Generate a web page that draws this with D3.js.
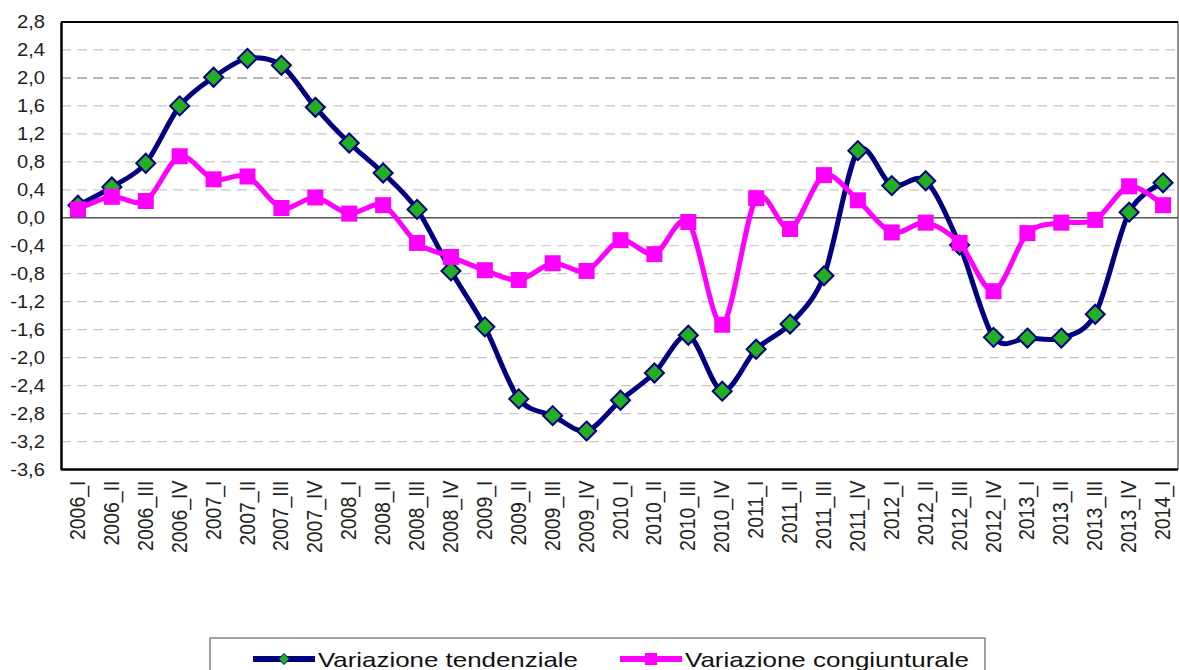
<!DOCTYPE html>
<html>
<head>
<meta charset="utf-8">
<script src="https://cdn.jsdelivr.net/npm/d3@7"></script>
<style>
  body { margin: 0; background: #fff; }
  svg { display: block; font-family: "Liberation Sans", Arial, sans-serif; }
</style>
</head>
<body>
<div id="vis"></div>
<script>
const W = 1179, H = 670;
const plot = {left: 61, right: 1180, top: 22, bottom: 469.5};

// quarters on the x axis
const quarters = ["2006_I","2006_II","2006_III","2006_IV","2007_I","2007_II","2007_III","2007_IV",
  "2008_I","2008_II","2008_III","2008_IV","2009_I","2009_II","2009_III","2009_IV",
  "2010_I","2010_II","2010_III","2010_IV","2011_I","2011_II","2011_III","2011_IV",
  "2012_I","2012_II","2012_III","2012_IV","2013_I","2013_II","2013_III","2013_IV","2014_I"];

// variazione tendenziale (blue, diamonds)
const tendenziale = [0.18, 0.44, 0.78, 1.60, 2.01, 2.28, 2.18, 1.58,
  1.07, 0.64, 0.12, -0.76, -1.56, -2.59, -2.83, -3.05,
  -2.61, -2.22, -1.68, -2.48, -1.88, -1.52, -0.83, 0.96,
  0.46, 0.53, -0.39, -1.71, -1.72, -1.72, -1.38, 0.08, 0.50];

// variazione congiunturale (magenta, squares)
const congiunturale = [0.12, 0.30, 0.24, 0.88, 0.55, 0.59, 0.14, 0.29,
  0.06, 0.18, -0.36, -0.56, -0.75, -0.89, -0.65, -0.76,
  -0.32, -0.52, -0.06, -1.53, 0.28, -0.16, 0.61, 0.25,
  -0.21, -0.07, -0.36, -1.05, -0.22, -0.07, -0.03, 0.45, 0.18];

const yTicks = [2.8, 2.4, 2.0, 1.6, 1.2, 0.8, 0.4, 0.0, -0.4, -0.8, -1.2, -1.6, -2.0, -2.4, -2.8, -3.2, -3.6];
const seriesNames = ["Variazione tendenziale", "Variazione congiunturale"];

const blue = "#000080", green = "#22b022", magenta = "#ff00ff";
const fmt = v => d3.format(".1f")(v).replace(".", ",").replace("−", "-");

const svg = d3.select("#vis").append("svg")
  .attr("width", W).attr("height", H);

const x = d3.scalePoint().domain(quarters).range([plot.left, plot.right]).padding(0.5);
const y = d3.scaleLinear().domain([-3.6, 2.8]).range([plot.bottom, plot.top]);

// grid lines
svg.append("g")
  .selectAll("line")
  .data(yTicks.filter(d => d !== 2.8 && d !== -3.6 && d !== 0))
  .enter().append("line")
  .attr("x1", plot.left).attr("x2", 1178)
  .attr("y1", d => y(d)).attr("y2", d => y(d))
  .attr("stroke", d => d === 2.0 ? "#b8b8b8" : "#c8c8c8")
  .attr("stroke-width", d => d === 2.0 ? 2 : 1.2)
  .attr("stroke-dasharray", "10,6");

// zero line
svg.append("line")
  .attr("x1", plot.left).attr("x2", 1178)
  .attr("y1", y(0)).attr("y2", y(0))
  .attr("stroke", "#555").attr("stroke-width", 1.5);

// plot frame
svg.append("line").attr("x1", plot.left).attr("x2", 1178).attr("y1", plot.top).attr("y2", plot.top)
  .attr("stroke", "#000").attr("stroke-width", 2);
svg.append("line").attr("x1", 1178).attr("x2", 1178).attr("y1", plot.top).attr("y2", plot.bottom)
  .attr("stroke", "#222").attr("stroke-width", 1);

// y axis
const yAxis = svg.append("g")
  .attr("transform", `translate(${plot.left},0)`)
  .call(d3.axisLeft(y).tickValues(yTicks).tickFormat(fmt).tickSize(0).tickPadding(0));
yAxis.select(".domain").attr("stroke", "#000").attr("stroke-width", 2.5);
yAxis.selectAll("text")
  .attr("x", -14)
  .attr("transform", "scale(1.15,1)")
  .style("font-size", "17.5px")
  .style("font-family", "'Liberation Sans', Arial, sans-serif")
  .attr("fill", "#222");

// x axis, labels turned upright
const xAxis = svg.append("g")
  .attr("transform", `translate(0,${plot.bottom})`)
  .call(d3.axisBottom(x).tickSize(0));
xAxis.select(".domain").attr("stroke", "#000").attr("stroke-width", 2.5)
  .attr("d", `M${plot.left},0H1178`);
xAxis.selectAll("text")
  .attr("x", -11).attr("y", 0).attr("dy", "0.3em")
  .attr("transform", "scale(1.12,1) rotate(-90)")
  .style("text-anchor", "end")
  .style("font-size", "19.5px")
  .style("font-family", "'Liberation Sans', Arial, sans-serif")
  .attr("fill", "#222");

const line = d3.line()
  .x((d, i) => x(quarters[i]))
  .y(d => y(d))
  .curve(d3.curveCardinal.tension(0.1));

// blue series
svg.append("path").datum(tendenziale)
  .attr("d", line).attr("fill", "none")
  .attr("stroke", blue).attr("stroke-width", 5).attr("stroke-linejoin", "round");
const diamond = s => `M0,${-s}L${s},0L0,${s}L${-s},0Z`;
svg.append("g").selectAll("path")
  .data(tendenziale).enter().append("path")
  .attr("d", diamond(9.5))
  .attr("transform", (d, i) => `translate(${x(quarters[i])},${y(d)})`)
  .attr("fill", green).attr("stroke", blue).attr("stroke-width", 2);

// magenta series
svg.append("path").datum(congiunturale)
  .attr("d", line).attr("fill", "none")
  .attr("stroke", magenta).attr("stroke-width", 5).attr("stroke-linejoin", "round");
svg.append("g").selectAll("rect")
  .data(congiunturale).enter().append("rect")
  .attr("x", (d, i) => x(quarters[i]) - 8)
  .attr("y", d => y(d) - 8)
  .attr("width", 16).attr("height", 16)
  .attr("fill", magenta);

// legend
svg.append("rect")
  .attr("x", 210).attr("y", 638).attr("width", 775).attr("height", 60)
  .attr("fill", "#fff").attr("stroke", "#444").attr("stroke-width", 1);

const legendItems = [
  {name: seriesNames[0], x0: 253, x1: 315, tx: 318, tw: 260, color: blue, marker: "diamond"},
  {name: seriesNames[1], x0: 620, x1: 682, tx: 685, tw: 284, color: magenta, marker: "square"}
];
const ly = 659;
legendItems.forEach(it => {
  svg.append("line")
    .attr("x1", it.x0).attr("x2", it.x1).attr("y1", ly).attr("y2", ly)
    .attr("stroke", it.color).attr("stroke-width", 6);
  const cx = (it.x0 + it.x1) / 2;
  if (it.marker === "diamond") {
    svg.append("path").attr("d", diamond(5.5))
      .attr("transform", `translate(${cx},${ly})`)
      .attr("fill", green).attr("stroke", blue).attr("stroke-width", 1);
  } else {
    svg.append("rect").attr("x", cx - 6).attr("y", ly - 6).attr("width", 12).attr("height", 12)
      .attr("fill", magenta);
  }
  svg.append("text")
    .attr("x", it.tx).attr("y", ly + 8)
    .attr("textLength", it.tw).attr("lengthAdjust", "spacingAndGlyphs")
    .style("font-size", "21px")
    .attr("fill", "#111")
    .text(it.name);
});
</script>
</body>
</html>
